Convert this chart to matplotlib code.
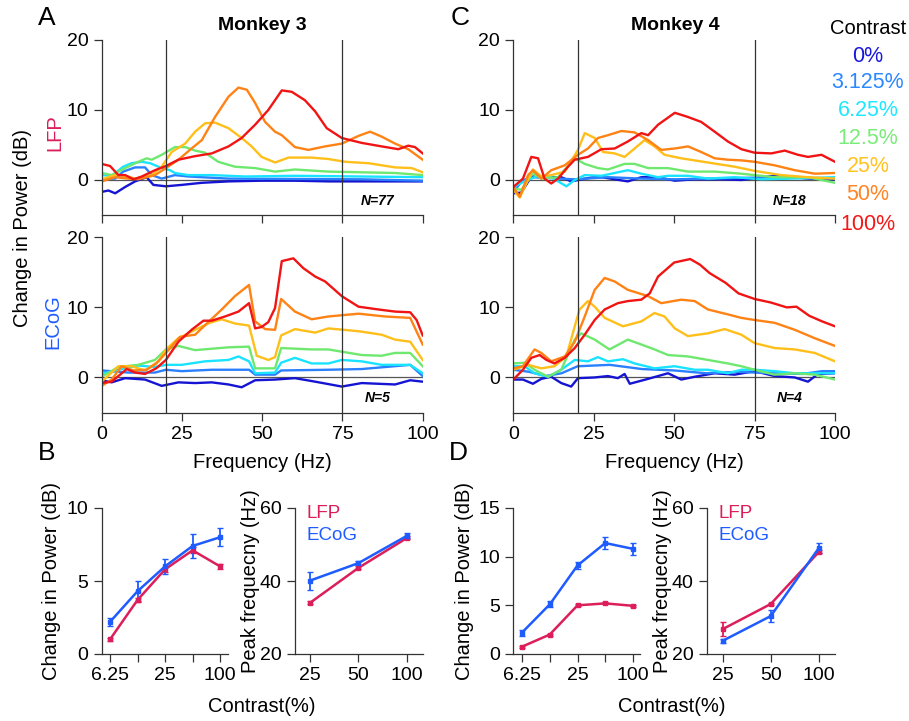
import matplotlib
matplotlib.use("Agg")
import matplotlib.pyplot as plt

plt.rcParams['font.family'] = ['Liberation Sans', 'DejaVu Sans']

W, H = 909, 721

CONTRAST_LABELS = ["0%", "3.125%", "6.25%", "12.5%", "25%", "50%", "100%"]
LINE_COLORS = ["#1414d2", "#2a80ff", "#19e3ff", "#6fe86f", "#ffbf1a", "#ff8214", "#f01414"]
TEXT_COLORS = ["#1818dc", "#2b88ff", "#1ee8ff", "#7aec7a", "#ffc21e", "#ff8424", "#f41818"]
LFP_COLOR = "#dc1e5a"
ECOG_COLOR = "#1f5cff"

# ---- spectra, Monkey 3 LFP (order: 0% ... 100%) ----
a_lfp_f = [
    [0, 2.1, 4.2, 7.3, 10.4, 14, 16.1, 20, 24.9, 31.2, 39.5, 49.8, 60.2, 70.6, 81, 100],
    [0, 4.2, 6.7, 10.4, 13.5, 15.6, 18.7, 22.8, 27, 39.5, 60.2, 81, 100],
    [0, 3.1, 6.7, 9.3, 12.5, 15.1, 18.7, 21.3, 22.8, 27, 34.3, 44.7, 60.2, 81, 100],
    [0, 3.1, 7.3, 11.4, 14, 15.6, 18.7, 22.8, 26, 29.1, 32.2, 36.3, 41.5, 47.8, 54, 60.2, 70.6, 81, 91.4, 100],
    [0, 4.2, 7.3, 10.4, 15.6, 18.7, 21.8, 26, 29.1, 32.2, 35.3, 39.5, 43.6, 46.7, 49.8, 54, 58.2, 65.4, 70.6, 75.8, 83.1, 91.4, 96.6, 100],
    [0, 4.2, 8.3, 11.4, 16.6, 20, 23.9, 28, 31.2, 35.3, 39.5, 42.6, 45.2, 47.8, 50.9, 54, 56.1, 60.2, 64.4, 69.6, 74.8, 80, 83.6, 87.2, 91.4, 95.5, 100],
    [0, 2.6, 5.2, 7.3, 9.9, 12.5, 16.6, 20, 23.9, 29, 34.3, 39.5, 43.6, 47.8, 51.9, 56.1, 59.2, 63.3, 66.5, 70.1, 74.8, 81, 87.2, 92.4, 95.5, 97.6, 100],
]
a_lfp_v = [
    [-1.7, -1.5, -1.9, -1.0, -0.2, 0.4, -0.7, -0.9, -0.7, -0.4, -0.2, -0.1, -0.1, -0.2, -0.2, -0.2],
    [0.1, 0.2, 1.2, 1.8, 1.8, 0.7, 0.2, 0.7, 0.5, 0.2, 0.15, 0.1, -0.1],
    [0.7, 0.6, 1.9, 2.4, 2.6, 2.4, 1.7, 1.4, 1.0, 0.7, 0.7, 0.5, 0.6, 0.5, 0.4],
    [1.0, 0.7, 1.7, 2.6, 3.1, 2.9, 3.6, 4.7, 4.7, 4.2, 3.9, 2.6, 1.9, 1.7, 1.2, 1.5, 1.2, 1.1, 1.0, 0.7],
    [0.1, 0.7, 0.6, 0.2, 0.7, 1.9, 4.0, 5.2, 6.9, 8.1, 8.2, 7.4, 6.0, 4.8, 3.3, 2.5, 3.2, 3.2, 3.0, 2.6, 2.4, 1.8, 1.7, 1.1],
    [-0.2, 0.4, 0.2, 0.1, 0.7, 1.7, 2.9, 4.5, 5.7, 9.0, 11.9, 13.2, 12.9, 11.0, 8.3, 6.9, 6.4, 4.7, 4.3, 4.8, 5.2, 6.3, 6.9, 6.2, 5.2, 4.4, 2.9],
    [2.3, 2.0, 0.7, 0.7, 0.1, 0.5, 1.4, 2.0, 2.9, 3.4, 3.8, 4.8, 6.0, 7.9, 10.0, 12.8, 12.6, 11.4, 9.8, 7.4, 6.0, 5.3, 4.8, 4.4, 4.9, 4.7, 3.8],
]

# ---- spectra, Monkey 3 ECoG ----
a_ecog_f = [
    [0, 3.1, 7.3, 13.5, 18.7, 23.9, 29.1, 34.3, 39.5, 43.6, 47.8, 54, 60.2, 66.5, 74.8, 81, 91.4, 96.1, 100],
    [0, 8.3, 16.6, 20, 24.9, 34.3, 45.9, 47.8, 54, 55.9, 70.6, 81, 96.1, 100],
    [0, 5.2, 11.4, 16.6, 20, 24.9, 32.2, 39.5, 42.6, 45.9, 47.8, 54, 55.9, 60.2, 65.4, 70.6, 74.8, 81, 87.2, 96.1, 100],
    [0, 5.2, 11.4, 16.6, 20, 23.9, 29.1, 39.5, 45.9, 47.8, 54, 55.9, 65.4, 70.6, 81, 87.2, 91.4, 96.1, 100],
    [0, 5.2, 9.3, 13.5, 17.7, 20, 23.9, 29.1, 33.7, 37.4, 41.5, 45.9, 48.3, 51.9, 54, 55.9, 60.2, 66.5, 70.6, 80, 87.2, 91.4, 96.1, 100],
    [0, 3.1, 6.2, 9.9, 14, 17, 20, 24.4, 29.1, 33.2, 37.4, 41.5, 45.9, 47.8, 50.9, 54, 55.9, 60.2, 65.4, 70.6, 80, 88.3, 96.1, 100],
    [0, 3.1, 7.8, 10.4, 13.5, 17, 20, 23.9, 28, 31.7, 34.3, 38.4, 42.6, 45.9, 47.8, 49.8, 51.9, 54, 56.1, 59.7, 62.8, 66.5, 69.6, 74.8, 80, 86.2, 91.4, 96.1, 98.1, 100],
]
a_ecog_v = [
    [-0.4, -0.7, -0.1, -0.3, -1.2, -0.7, -0.8, -0.7, -1.0, -1.4, -0.4, -0.3, -0.1, -0.6, -1.3, -0.8, -1.0, -0.4, -0.6],
    [1.0, 0.7, 0.7, 1.1, 0.9, 1.1, 1.1, 0.4, 0.4, 1.0, 1.1, 1.2, 1.8, 0.2],
    [0.5, 1.1, 1.7, 1.5, 1.8, 1.8, 2.3, 2.5, 3.0, 2.3, 0.6, 0.7, 2.1, 2.8, 2.0, 2.0, 2.5, 2.3, 1.8, 1.8, 0.6],
    [0.1, 1.5, 1.8, 2.5, 4.0, 4.5, 3.9, 4.3, 4.4, 1.3, 1.3, 4.2, 4.0, 4.0, 3.2, 3.1, 3.5, 3.5, 1.6],
    [-0.6, 1.6, 1.6, 1.0, 2.3, 4.0, 5.6, 6.8, 7.8, 8.3, 7.7, 7.4, 3.1, 2.5, 2.9, 6.0, 6.9, 6.4, 7.0, 6.6, 6.1, 5.4, 5.1, 2.5],
    [-1.2, -0.3, 1.6, 1.0, 1.1, 2.0, 3.5, 5.8, 6.1, 7.9, 9.7, 11.6, 13.2, 8.0, 6.9, 6.8, 11.2, 9.4, 8.3, 8.7, 9.1, 8.7, 8.5, 4.7],
    [-0.8, -0.6, 1.2, 0.7, 0.5, 1.3, 2.5, 5.1, 6.8, 8.1, 8.1, 8.7, 9.4, 10.6, 7.0, 7.2, 7.9, 9.9, 16.6, 17.0, 15.6, 14.4, 13.7, 11.6, 10.1, 9.7, 9.4, 9.3, 8.2, 6.0],
]

# ---- spectra, Monkey 4 LFP ----
c_lfp_f = [
    [0, 2.5, 5.6, 8.7, 14.9, 18, 21.1, 26.3, 31.5, 35.6, 39.8, 45, 50.2, 56.4, 64.7, 70.9, 81.2, 91.6, 100],
    [0, 3, 6.6, 13.9, 19.1, 29.4, 39.8, 50.2, 60.5, 81.2, 100],
    [0, 3.5, 7.7, 11.8, 16.5, 19.1, 22.2, 27.4, 31.5, 35.6, 39.8, 45, 48.1, 54.3, 60.5, 68.8, 77.1, 86.4, 100],
    [0, 2.5, 6.1, 8.7, 13.9, 19.1, 22.2, 26.3, 29.4, 34.6, 37.7, 41.9, 48.1, 54.3, 62.6, 70.9, 81.2, 91.6, 100],
    [0, 2, 6.1, 8.7, 11.8, 16, 20.1, 22.2, 25.3, 27.9, 31.5, 34.6, 37.7, 40.8, 43.9, 47, 52.2, 60.5, 68.8, 75, 83.3, 91.6, 100],
    [0, 2, 4.6, 6.1, 8.7, 11.8, 16, 20.1, 23.2, 26.3, 29.4, 33.6, 37.7, 41.9, 46, 50.2, 54.3, 58.4, 62.6, 66.7, 70.9, 75, 81.2, 87.5, 93.7, 100],
    [0, 3, 5.6, 7.7, 9.7, 11.8, 13.9, 17, 19.1, 23.2, 27.4, 31.5, 35.6, 39.8, 41.9, 45, 50.2, 54.3, 58.4, 62.6, 66.7, 70.9, 75, 80.2, 84.4, 88.5, 91.6, 95.8, 100],
]
c_lfp_v = [
    [-1.9, -1.8, 0.5, 0.4, 0.4, -0.2, 0.1, 0.5, 0.1, -0.2, 0.4, 0.4, -0.1, 0.1, 0.1, 0.0, 0.6, 0.2, 0.1],
    [-1.7, 0.0, 0.4, 0.2, 0.1, 0.4, 0.2, 0.1, 0.2, 0.4, 0.2],
    [-1.0, -0.2, 0.6, 0.4, -0.9, 0.0, 0.7, 0.6, 1.0, 1.4, 0.9, 0.4, 0.6, 0.6, 0.2, 0.4, 0.1, 0.2, 0.4],
    [-1.2, -1.4, 1.0, 0.2, 0.4, 3.1, 2.3, 1.7, 1.5, 2.3, 2.3, 1.7, 1.7, 1.2, 1.2, 0.9, 0.4, 0.4, -0.4],
    [-1.4, -2.5, 1.5, 0.5, 0.7, 1.2, 4.3, 6.7, 6.0, 4.0, 3.8, 3.3, 4.5, 5.7, 4.8, 3.6, 3.1, 2.5, 1.9, 1.3, 0.7, 0.4, 0.2],
    [-1.0, -2.4, 0.7, 1.4, 0.2, 1.4, 2.1, 3.6, 4.5, 6.0, 6.4, 7.0, 6.8, 5.7, 4.3, 4.5, 4.8, 4.0, 3.1, 2.9, 2.8, 2.6, 2.1, 1.4, 0.9, 1.0],
    [-1.0, 0.2, 3.3, 3.1, 0.2, -0.5, 0.2, 1.9, 2.9, 3.3, 4.4, 4.5, 5.5, 6.7, 6.4, 7.9, 9.6, 9.0, 8.3, 6.9, 5.5, 4.4, 3.9, 3.8, 4.2, 3.6, 3.3, 3.6, 2.6],
]

# ---- spectra, Monkey 4 ECoG ----
c_ecog_f = [
    [0, 3, 6.1, 8.7, 11.8, 14.9, 18, 20.1, 25.3, 29.4, 32.5, 34.6, 36.2, 41.9, 48.1, 52.2, 56.4, 62.6, 68.8, 75, 81.2, 87.5, 91.6, 94.7, 100],
    [0, 5, 10, 15, 20, 30, 40, 50, 60, 70, 80, 90, 96, 100],
    [0, 3.5, 6.6, 10.8, 14.9, 19.1, 23.2, 26.3, 29.4, 34.1, 37.7, 43.9, 50.2, 56.4, 60.5, 66.7, 70.9, 75, 81.2, 87.5, 93.7, 100],
    [0, 3.5, 6.6, 10.8, 14.9, 19.1, 21.1, 25.3, 29.9, 35.6, 39.8, 43.9, 48.1, 54.3, 60.5, 66.7, 70.9, 75, 81.2, 87.5, 93.7, 100],
    [0, 4.6, 8.7, 12.8, 16.5, 19.1, 20.6, 23.2, 25.3, 28.4, 34.1, 39.8, 43.9, 47, 50.2, 54.3, 60.5, 65.7, 70.9, 75, 81.2, 87.5, 93.7, 100],
    [0, 3, 6.6, 8.7, 11.8, 16, 19.1, 22.2, 25.3, 28.4, 31.5, 35.6, 41.9, 46, 52.2, 56.4, 60.5, 66.7, 70.9, 75, 81.2, 87.5, 93.7, 100],
    [0, 3, 5.6, 8.2, 10.3, 12.8, 16, 19.1, 22.2, 25.3, 28.4, 32.5, 35.6, 39.8, 42.4, 45, 50, 55, 58, 61, 66, 70, 75, 80, 85, 88, 92, 96, 100],
]
c_ecog_v = [
    [-0.3, -0.3, -0.9, -0.2, 0.1, -0.8, -1.3, -0.1, 0.0, 0.2, -0.1, 0.5, -0.9, -0.2, 0.6, -0.3, 0.1, 0.6, 0.4, 0.9, 0.2, 0.0, -0.6, 0.5, 0.6],
    [1.1, 0.8, 0.2, 0.6, 1.6, 1.8, 1.2, 1.0, 0.6, 0.8, 0.6, 0.5, 0.9, 0.9],
    [1.6, 1.6, 0.6, 0.1, 1.1, 2.5, 2.3, 2.9, 2.3, 2.6, 2.0, 1.3, 1.6, 1.1, 1.1, 0.6, 1.1, 1.1, 0.9, 0.6, 0.6, 0.6],
    [2.0, 2.1, 1.1, 0.1, 1.1, 5.4, 6.3, 5.4, 4.0, 5.4, 4.7, 4.0, 3.2, 3.0, 2.5, 2.0, 1.6, 1.1, 0.4, 0.6, 0.4, -0.3],
    [1.1, 1.8, 1.3, 1.6, 3.0, 7.3, 9.7, 10.9, 10.1, 8.5, 7.3, 8.0, 9.2, 8.7, 7.0, 5.9, 6.3, 6.9, 6.1, 4.9, 4.2, 4.0, 3.5, 2.3],
    [1.3, 1.6, 4.0, 3.5, 2.3, 3.0, 5.1, 8.7, 12.5, 14.2, 13.7, 12.5, 11.6, 10.6, 11.1, 10.9, 9.7, 9.0, 8.5, 8.2, 7.8, 6.8, 5.6, 4.5],
    [-0.3, 1.1, 2.8, 3.2, 2.5, 2.0, 2.8, 4.2, 6.1, 8.2, 9.7, 10.6, 10.9, 11.1, 12.0, 14.4, 16.4, 16.9, 16.1, 14.9, 13.5, 12.0, 11.2, 10.7, 10.0, 10.1, 8.8, 8.0, 7.3],
]

# ---- summary panels ----
power_contrast = [6.25, 12.5, 25, 50, 100]
power_ticklabels = ["6.25", "", "25", "", "100"]
peak_contrast = [25, 50, 100]
peak_ticklabels = ["25", "50", "100"]

b_pow_lfp = [1.0, 3.7, 5.8, 7.1, 6.0]
b_pow_lfp_err = [0.1, 0.15, 0.15, 0.2, 0.15]
b_pow_ecog = [2.2, 4.3, 6.0, 7.4, 8.0]
b_pow_ecog_err = [0.3, 0.7, 0.5, 0.8, 0.6]
b_peak_lfp = [34.0, 43.6, 51.8]
b_peak_lfp_err = [0.4, 0.4, 0.4]
b_peak_ecog = [40.1, 44.9, 52.4]
b_peak_ecog_err = [2.5, 0.6, 0.7]

d_pow_lfp = [0.75, 2.0, 5.0, 5.2, 4.95]
d_pow_lfp_err = [0.1, 0.1, 0.1, 0.1, 0.1]
d_pow_ecog = [2.2, 5.1, 9.1, 11.4, 10.8]
d_pow_ecog_err = [0.3, 0.3, 0.4, 0.6, 0.6]
d_peak_lfp = [26.8, 33.7, 48.0]
d_peak_lfp_err = [2.0, 0.4, 0.4]
d_peak_ecog = [23.6, 30.4, 49.1]
d_peak_ecog_err = [0.5, 1.6, 1.3]


def rect(x0, y0, x1, y1):
    return [x0 / W, 1 - y1 / H, (x1 - x0) / W, (y1 - y0) / H]


def ftext(x, y, s, **kw):
    fig.text(x / W, 1 - y / H, s, ha=kw.pop("ha", "center"), va=kw.pop("va", "center"), **kw)


def style_axes(ax):
    for side in ["top", "right"]:
        ax.spines[side].set_visible(False)
    for side in ["left", "bottom"]:
        ax.spines[side].set_linewidth(0.9)
        ax.spines[side].set_color("#333333")
    ax.tick_params(direction="out", length=6, width=0.9, color="#333333", labelsize=14)


def spectrum(ax, freqs, vals, label_n, show_xlabels):
    ax.axhline(0, color="#555555", lw=0.9, zorder=1)
    for f, v, c in zip(freqs, vals, LINE_COLORS):
        ax.plot(f, v, color=c, lw=1.7, zorder=2)
    ax.axvline(20, color="#333333", lw=0.9, zorder=3)
    ax.axvline(75, color="#333333", lw=0.9, zorder=3)
    ax.set_xlim(0, 100)
    ax.set_ylim(-5, 20)
    ax.set_xticks([0, 25, 50, 75, 100])
    ax.set_yticks([0, 10, 20])
    if not show_xlabels:
        ax.set_xticklabels([])
    style_axes(ax)
    ax.text(0.86, 0.08, label_n, transform=ax.transAxes, fontsize=10,
            fontweight="bold", style="italic", ha="center", va="center")


def summary(ax, x, lfp, lfp_err, ecog, ecog_err, xlim, ylim, yticks, xticklabels):
    ax.errorbar(x, lfp, yerr=lfp_err, color=LFP_COLOR, lw=1.8, marker="s", ms=2.5,
                capsize=2, elinewidth=1.3)
    ax.errorbar(x, ecog, yerr=ecog_err, color=ECOG_COLOR, lw=1.8, marker="s", ms=2.5,
                capsize=2, elinewidth=1.3)
    ax.set_xscale("log", base=2)
    ax.set_xlim(*xlim)
    ax.set_ylim(*ylim)
    ax.set_yticks(yticks)
    ax.set_xticks(x)
    ax.set_xticklabels(xticklabels)
    ax.minorticks_off()
    style_axes(ax)
    ax.tick_params(labelsize=14)


fig = plt.figure(figsize=(W / 100, H / 100), dpi=100)

ax_a1 = fig.add_axes(rect(101.7, 40, 422.7, 215))
ax_a2 = fig.add_axes(rect(101.7, 237.3, 422.7, 412.5))
ax_c1 = fig.add_axes(rect(513.3, 40, 835, 215))
ax_c2 = fig.add_axes(rect(513.3, 237.3, 835, 412.5))

spectrum(ax_a1, a_lfp_f, a_lfp_v, "N=77", False)
spectrum(ax_a2, a_ecog_f, a_ecog_v, "N=5", True)
spectrum(ax_c1, c_lfp_f, c_lfp_v, "N=18", False)
spectrum(ax_c2, c_ecog_f, c_ecog_v, "N=4", True)

ax_b1 = fig.add_axes(rect(101.7, 508, 228, 654))
ax_b2 = fig.add_axes(rect(295, 508, 423, 654))
ax_d1 = fig.add_axes(rect(513, 508, 640, 654))
ax_d2 = fig.add_axes(rect(706.7, 508, 835, 654))

summary(ax_b1, power_contrast, b_pow_lfp, b_pow_lfp_err, b_pow_ecog, b_pow_ecog_err,
        (5.07, 122), (0, 10), [0, 5, 10], power_ticklabels)
summary(ax_b2, peak_contrast, b_peak_lfp, b_peak_lfp_err, b_peak_ecog, b_peak_ecog_err,
        (20.2, 125.7), (20, 60), [20, 40, 60], peak_ticklabels)
summary(ax_d1, power_contrast, d_pow_lfp, d_pow_lfp_err, d_pow_ecog, d_pow_ecog_err,
        (4.99, 119), (0, 15), [0, 5, 10, 15], power_ticklabels)
summary(ax_d2, peak_contrast, d_peak_lfp, d_peak_lfp_err, d_peak_ecog, d_peak_ecog_err,
        (19.9, 125.9), (20, 60), [20, 40, 60], peak_ticklabels)

# panel letters and titles
ftext(47, 18, "A", fontsize=19)
ftext(460, 18, "C", fontsize=19)
ftext(47, 453, "B", fontsize=19)
ftext(458, 453, "D", fontsize=19)
ftext(262, 25, "Monkey 3", fontsize=14, fontweight="bold")
ftext(675, 25, "Monkey 4", fontsize=14, fontweight="bold")

# axis labels for spectra
ftext(23, 228, "Change in Power (dB)", fontsize=14.5, rotation=90)
ftext(55, 133, "LFP", fontsize=14.5, rotation=90, color=LFP_COLOR)
ftext(53, 322, "ECoG", fontsize=14.5, rotation=90, color=ECOG_COLOR)
ftext(262, 462, "Frequency (Hz)", fontsize=14.5)
ftext(674, 462, "Frequency (Hz)", fontsize=14.5)

# contrast legend
ftext(868, 28, "Contrast", fontsize=14.5)
legend_y = [56, 83, 111, 139, 167, 195, 224]
for lab, col, ly in zip(CONTRAST_LABELS, TEXT_COLORS, legend_y):
    ftext(868, ly, lab, fontsize=15.5, color=col)

# summary labels
ftext(52, 581, "Change in Power (dB)", fontsize=14.5, rotation=90)
ftext(250, 581, "Peak frequecny (Hz)", fontsize=14.5, rotation=90)
ftext(464, 581, "Change in Power (dB)", fontsize=14.5, rotation=90)
ftext(662, 581, "Peak frequecny (Hz)", fontsize=14.5, rotation=90)
ftext(262, 707, "Contrast(%)", fontsize=14.5)
ftext(672, 707, "Contrast(%)", fontsize=14.5)

for lx in [307, 718]:
    ftext(lx, 513, "LFP", fontsize=13.5, color=LFP_COLOR, ha="left")
    ftext(lx, 535, "ECoG", fontsize=13.5, color=ECOG_COLOR, ha="left")

fig.savefig("out.png", dpi=100)
